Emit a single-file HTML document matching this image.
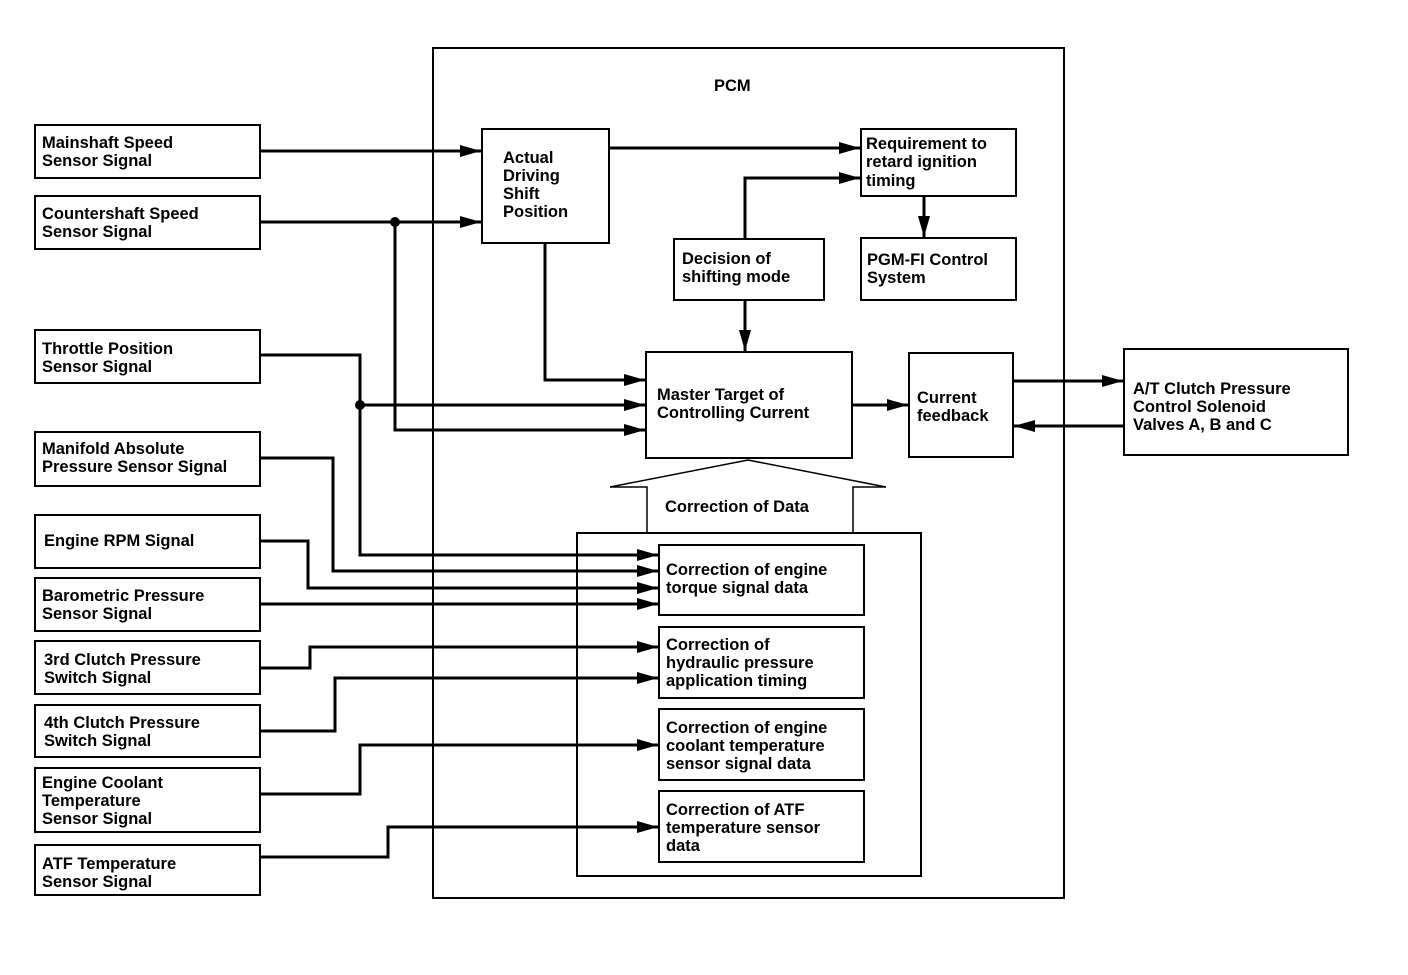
<!DOCTYPE html>
<html><head><style>
html,body{margin:0;padding:0;background:#fff;}
svg text{font-family:"Liberation Sans",Arial,sans-serif;font-weight:bold;font-size:16.5px;fill:#000;}
</style></head><body>
<svg width="1408" height="970" viewBox="0 0 1408 970" xmlns="http://www.w3.org/2000/svg">
<defs>
<marker id="a" markerWidth="7" markerHeight="4" refX="7" refY="2" orient="auto" markerUnits="strokeWidth">
<path d="M0,0 L7,2 L0,4 z" fill="#000"/></marker>
</defs>
<g fill="none" stroke="#000" stroke-width="2">
<rect x="433" y="48" width="631" height="850"/>
<rect x="577" y="533" width="344" height="343"/>
<rect x="35" y="125" width="225" height="53"/>
<rect x="35" y="196" width="225" height="53"/>
<rect x="35" y="330" width="225" height="53"/>
<rect x="35" y="432" width="225" height="54"/>
<rect x="35" y="515" width="225" height="53"/>
<rect x="35" y="578" width="225" height="53"/>
<rect x="35" y="641" width="225" height="53"/>
<rect x="35" y="705" width="225" height="52"/>
<rect x="35" y="768" width="225" height="64"/>
<rect x="35" y="845" width="225" height="50"/>
<rect x="482" y="129" width="127" height="114"/>
<rect x="861" y="129" width="155" height="67"/>
<rect x="861" y="238" width="155" height="62"/>
<rect x="674" y="239" width="150" height="61"/>
<rect x="646" y="352" width="206" height="106"/>
<rect x="909" y="353" width="104" height="104"/>
<rect x="1124" y="349" width="224" height="106"/>
<rect x="659" y="545" width="205" height="70"/>
<rect x="659" y="627" width="205" height="71"/>
<rect x="659" y="709" width="205" height="71"/>
<rect x="659" y="791" width="205" height="71"/>
<path d="M647,533 L647,487 L610,487 L748,460 L886,487 L853,487 L853,533" stroke-width="1.5"/>
</g>
<g fill="none" stroke="#000" stroke-width="3" marker-end="url(#a)">
<path d="M260,151 L481,151"/>
<path d="M260,222 L481,222"/>
<path d="M395,222 L395,430 L645,430"/>
<path d="M545,243 L545,380 L645,380"/>
<path d="M260,355 L360,355 L360,555 L658,555"/>
<path d="M360,405 L645,405"/>
<path d="M260,458 L333,458 L333,571 L658,571"/>
<path d="M260,541 L308,541 L308,588 L658,588"/>
<path d="M260,604 L658,604"/>
<path d="M260,668 L310,668 L310,647 L658,647"/>
<path d="M260,731 L335,731 L335,678 L658,678"/>
<path d="M260,794 L360,794 L360,745 L658,745"/>
<path d="M260,857 L388,857 L388,827 L658,827"/>
<path d="M609,148 L860,148"/>
<path d="M745,239 L745,178 L860,178"/>
<path d="M924,196 L924,237"/>
<path d="M745,300 L745,351"/>
<path d="M852,405 L908,405"/>
<path d="M1013,381 L1123,381"/>
<path d="M1124,426 L1014,426"/>
</g>
<circle cx="395" cy="222" r="5"/>
<circle cx="360" cy="405" r="5"/>
<text x="714" y="91">PCM</text>
<text x="42" y="148">Mainshaft Speed</text><text x="42" y="166">Sensor Signal</text>
<text x="42" y="219">Countershaft Speed</text><text x="42" y="237">Sensor Signal</text>
<text x="42" y="354">Throttle Position</text><text x="42" y="372">Sensor Signal</text>
<text x="42" y="454">Manifold Absolute</text><text x="42" y="472">Pressure Sensor Signal</text>
<text x="44" y="546">Engine RPM Signal</text>
<text x="42" y="601">Barometric Pressure</text><text x="42" y="619">Sensor Signal</text>
<text x="44" y="665">3rd Clutch Pressure</text><text x="44" y="683">Switch Signal</text>
<text x="44" y="728">4th Clutch Pressure</text><text x="44" y="746">Switch Signal</text>
<text x="42" y="788">Engine Coolant</text><text x="42" y="806">Temperature</text><text x="42" y="824">Sensor Signal</text>
<text x="42" y="869">ATF Temperature</text><text x="42" y="887">Sensor Signal</text>
<text x="503" y="163">Actual</text><text x="503" y="181">Driving</text><text x="503" y="199">Shift</text><text x="503" y="217">Position</text>
<text x="866" y="149">Requirement to</text><text x="866" y="167">retard ignition</text><text x="866" y="186">timing</text>
<text x="867" y="265">PGM-FI Control</text><text x="867" y="283">System</text>
<text x="682" y="264">Decision of</text><text x="682" y="282">shifting mode</text>
<text x="657" y="400">Master Target of</text><text x="657" y="418">Controlling Current</text>
<text x="917" y="403">Current</text><text x="917" y="421">feedback</text>
<text x="1133" y="394">A/T Clutch Pressure</text><text x="1133" y="412">Control Solenoid</text><text x="1133" y="430">Valves A, B and C</text>
<text x="665" y="512">Correction of Data</text>
<text x="666" y="575">Correction of engine</text><text x="666" y="593">torque signal data</text>
<text x="666" y="650">Correction of</text><text x="666" y="668">hydraulic pressure</text><text x="666" y="686">application timing</text>
<text x="666" y="733">Correction of engine</text><text x="666" y="751">coolant temperature</text><text x="666" y="769">sensor signal data</text>
<text x="666" y="815">Correction of ATF</text><text x="666" y="833">temperature sensor</text><text x="666" y="851">data</text>
</svg>
</body></html>
